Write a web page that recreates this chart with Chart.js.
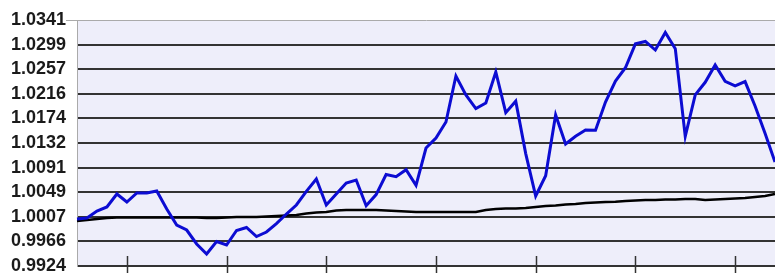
<!DOCTYPE html>
<html>
<head>
<meta charset="utf-8">
<script src="https://cdn.jsdelivr.net/npm/chart.js@4.4.1/dist/chart.umd.min.js"></script>
<style>
  html, body { margin: 0; padding: 0; background: #fff; }
  #c { display: block; }
</style>
</head>
<body>
<canvas id="c" width="775" height="277"></canvas>
<script>
/* ── Datos ───────────────────────────────────────────── */
var portfolio = [
  1.00037, 1.00054, 1.00172, 1.00240, 1.00461, 1.00325, 1.00478, 1.00478, 1.00511, 1.00206,
  0.99935, 0.99850, 0.99613, 0.99444, 0.99655, 0.99596, 0.99842, 0.99893, 0.99740, 0.99816,
  0.99959, 1.00121, 1.00274, 1.00505, 1.00715, 1.00274, 1.00461, 1.00647, 1.00698, 1.00261,
  1.00450, 1.00791, 1.00755, 1.00872, 1.00606, 1.01240, 1.01410, 1.01681, 1.02461, 1.02139,
  1.01908, 1.02003, 1.02529, 1.01840, 1.02034, 1.01145, 1.00427, 1.00771, 1.01800, 1.01308,
  1.01439, 1.01545, 1.01542, 1.02020, 1.02376, 1.02601, 1.03005, 1.03046, 1.02901, 1.03198,
  1.02924, 1.01437, 1.02140, 1.02354, 1.02647, 1.02371, 1.02295, 1.02366, 1.01952, 1.01489,
  1.01003
];
var benchmark = [
  1.00003, 1.00020, 1.00037, 1.00054, 1.00062, 1.00062, 1.00062, 1.00062, 1.00062, 1.00062,
  1.00062, 1.00062, 1.00062, 1.00054, 1.00054, 1.00062, 1.00071, 1.00071, 1.00071, 1.00079,
  1.00088, 1.00096, 1.00105, 1.00130, 1.00147, 1.00155, 1.00181, 1.00189, 1.00189, 1.00189,
  1.00189, 1.00181, 1.00172, 1.00164, 1.00155, 1.00155, 1.00155, 1.00155, 1.00155, 1.00155,
  1.00155, 1.00189, 1.00206, 1.00215, 1.00215, 1.00223, 1.00240, 1.00257, 1.00266, 1.00283,
  1.00291, 1.00308, 1.00317, 1.00325, 1.00330, 1.00342, 1.00350, 1.00359, 1.00359, 1.00367,
  1.00367, 1.00376, 1.00376, 1.00359, 1.00367, 1.00376, 1.00384, 1.00393, 1.00410, 1.00427,
  1.00461
];
var yLabels = ['0.9924','0.9966','1.0007','1.0049','1.0091','1.0132',
               '1.0174','1.0216','1.0257','1.0299','1.0341'];
var xTicks = [5, 15, 25, 36, 46, 56, 66];

var periods = portfolio.map(function (_, i) { return i; });
var yMin = parseFloat(yLabels[0]), yMax = parseFloat(yLabels[yLabels.length - 1]);
var yStep = (yMax - yMin) / (yLabels.length - 1);
var TOP = yLabels.length - 1;

/* ── Plugins: fondo del área y marcas del eje X ──────── */
var plotBg = {
  id: 'plotBg',
  beforeDraw: function (chart) {
    var a = chart.chartArea, g = chart.ctx;
    g.save();
    g.fillStyle = '#eeeefa';
    g.fillRect(a.left, a.top, a.right - a.left, a.bottom - a.top);
    g.restore();
  }
};
var xMarks = {
  id: 'xMarks',
  afterDatasetsDraw: function (chart) {
    var sx = chart.scales.x, a = chart.chartArea, g = chart.ctx;
    g.save();
    g.strokeStyle = '#333';
    g.lineWidth = 1.5;
    xTicks.forEach(function (v) {
      var px = Math.round(sx.getPixelForValue(v)) + 0.5;
      g.beginPath();
      g.moveTo(px, a.bottom - 10);
      g.lineTo(px, a.bottom + 7);
      g.stroke();
    });
    g.restore();
  }
};

new Chart(document.getElementById('c'), {
  type: 'line',
  data: {
    labels: periods,
    datasets: [
      { data: portfolio, borderColor: '#0c0cd2', borderWidth: 3, pointRadius: 0, tension: 0, order: 0 },
      { data: benchmark, borderColor: '#000', borderWidth: 2.5, pointRadius: 0, tension: 0, order: 1 }
    ]
  },
  options: {
    responsive: false,
    animation: false,
    layout: { padding: { top: 20, right: 0, left: 0, bottom: 0 } },
    plugins: { legend: { display: false }, tooltip: { enabled: false } },
    scales: {
      x: {
        offset: false,
        grid: { display: false },
        border: { display: false },
        ticks: { display: false },
        afterFit: function (s) { s.height = 11; }
      },
      y: {
        min: yMin, max: yMax,
        afterBuildTicks: function (s) {
          s.ticks = yLabels.map(function (_, i) { return { value: yMin + i * yStep }; });
        },
        afterFit: function (s) { s.width = 77; },
        border: { display: true, color: '#aaa', width: 1 },
        grid: {
          color: function (c) { return c.index === TOP ? '#aaa' : '#333'; },
          lineWidth: function (c) { return c.index === TOP ? 1 : 2; },
          tickColor: function (c) { return c.index === TOP ? '#aaa' : 'rgba(0,0,0,0)'; },
          tickLength: 11
        },
        ticks: {
          padding: 0,
          color: '#1a1a1a',
          font: { family: "'Liberation Sans', Arial, sans-serif", size: 18, weight: 'bold' },
          callback: function (v, i) { return yLabels[i]; }
        }
      }
    }
  },
  plugins: [plotBg, xMarks]
});
</script>
</body>
</html>
